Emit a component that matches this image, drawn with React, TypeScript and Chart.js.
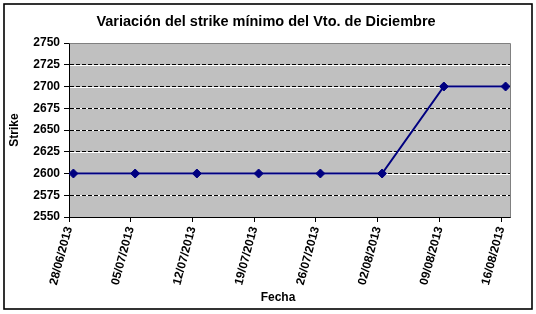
import React, { useEffect, useRef } from "react";
import { Chart, registerables } from "chart.js";

Chart.register(...registerables);

const TITLE = "Variación del strike mínimo del Vto. de Diciembre";
const X_TITLE = "Fecha";
const Y_TITLE = "Strike";

const dateLabels = [
  "28/06/2013",
  "05/07/2013",
  "12/07/2013",
  "19/07/2013",
  "26/07/2013",
  "02/08/2013",
  "09/08/2013",
  "16/08/2013",
];

const strikeValues = [2600, 2600, 2600, 2600, 2600, 2600, 2700, 2700];

const Y_MIN = 2550;
const Y_MAX = 2750;
const Y_STEP = 25;

const FONT = "'Liberation Sans', Arial, sans-serif";

function dayNumber(label: string): number {
  const [dd, mm, yy] = label.split("/").map(Number);
  return Date.UTC(yy, mm - 1, dd) / 86400000;
}

const firstDay = dayNumber(dateLabels[0]);
const tickDays = dateLabels.map((d) => dayNumber(d) - firstDay);
const lastDay = tickDays[tickDays.length - 1];

export default function App() {
  const canvasRef = useRef<HTMLCanvasElement | null>(null);

  useEffect(() => {
    document.body.style.margin = "0";
    const canvas = canvasRef.current;
    if (!canvas) return;

    const decor = {
      id: "decor",
      beforeDraw(chart: any) {
        const { ctx, chartArea } = chart;
        const { left, top, right, bottom } = chartArea;
        ctx.save();
        ctx.fillStyle = "#ffffff";
        ctx.fillRect(0, 0, chart.width, chart.height);
        ctx.fillStyle = "#C0C0C0";
        ctx.fillRect(left, top, right - left, bottom - top);
        // white under-lines for the dashed gridlines
        const ys = chart.scales.y;
        ctx.strokeStyle = "#ffffff";
        ctx.lineWidth = 1;
        ys.ticks.forEach((t: any) => {
          if (t.value === Y_MIN || t.value === Y_MAX) return;
          const y = Math.round(ys.getPixelForValue(t.value)) + 0.5;
          ctx.beginPath();
          ctx.moveTo(left, y);
          ctx.lineTo(right, y);
          ctx.stroke();
        });
        ctx.restore();
      },
      afterDraw(chart: any) {
        const { ctx, chartArea } = chart;
        const { left, top, right, bottom } = chartArea;
        ctx.save();
        // plot-area frame (top and right)
        ctx.strokeStyle = "#808080";
        ctx.lineWidth = 1;
        ctx.beginPath();
        ctx.moveTo(Math.round(left) + 0.5, Math.round(top) + 0.5);
        ctx.lineTo(Math.round(right) + 0.5, Math.round(top) + 0.5);
        ctx.lineTo(Math.round(right) + 0.5, Math.round(bottom) + 0.5);
        ctx.stroke();
        // chart title
        ctx.fillStyle = "#000";
        ctx.textAlign = "center";
        ctx.textBaseline = "middle";
        ctx.font = `bold 14.5px ${FONT}`;
        ctx.fillText(TITLE, 266, 22);
        // x-axis title
        ctx.font = `bold 12px ${FONT}`;
        ctx.fillText(X_TITLE, 278, 298);
        // outer frame
        ctx.strokeStyle = "#000";
        ctx.lineWidth = 1.6;
        ctx.strokeRect(4, 4, 528, 305);
        ctx.restore();
      },
    };

    const chart = new Chart(canvas, {
      type: "line",
      data: {
        datasets: [
          {
            data: strikeValues.map((v, i) => ({ x: tickDays[i] + 0.5, y: v })),
            borderColor: "#000080",
            backgroundColor: "#000080",
            borderWidth: 2,
            pointStyle: "rectRot",
            pointRadius: 4.5,
            pointHoverRadius: 4.5,
            pointBackgroundColor: "#000080",
            pointBorderColor: "#000080",
            pointBorderWidth: 1,
            tension: 0,
            fill: false,
          },
        ],
      },
      options: {
        responsive: false,
        animation: false,
        events: [],
        layout: { padding: { top: 43, right: 26, bottom: 0, left: 0 } },
        plugins: {
          legend: { display: false },
          tooltip: { enabled: false },
          title: { display: false },
        },
        scales: {
          x: {
            type: "linear",
            min: 0,
            max: lastDay + 1,
            afterBuildTicks: (scale: any) => {
              scale.ticks = tickDays.map((d) => ({ value: d }));
            },
            afterFit: (scale: any) => {
              scale.height = 97;
            },
            ticks: {
              autoSkip: false,
              minRotation: 75,
              maxRotation: 75,
              padding: 3,
              color: "#000",
              font: { family: FONT, size: 12, weight: "bold" },
              callback: (value: any) => {
                const i = tickDays.indexOf(Number(value));
                return i >= 0 ? dateLabels[i] : "";
              },
            },
            grid: {
              drawOnChartArea: false,
              drawTicks: true,
              tickLength: 5,
              tickColor: "#000",
              color: "#000",
            },
            border: { color: "#000", width: 1 },
          },
          y: {
            min: Y_MIN,
            max: Y_MAX,
            afterFit: (scale: any) => {
              scale.width = 69;
            },
            ticks: {
              stepSize: Y_STEP,
              padding: 4,
              color: "#000",
              font: { family: FONT, size: 12, weight: "bold" },
              callback: (value: any) => String(value),
            },
            grid: {
              color: (ctx: any) =>
                ctx.tick && (ctx.tick.value === Y_MIN || ctx.tick.value === Y_MAX)
                  ? "rgba(0,0,0,0)"
                  : "#000",
              tickColor: "#000",
              tickLength: 5,
              lineWidth: 1,
            },
            border: { color: "#000", width: 1, dash: [4, 2] },
            title: {
              display: true,
              text: Y_TITLE,
              color: "#000",
              font: { family: FONT, size: 12, weight: "bold" },
              padding: { top: 7, bottom: 0 },
            },
          },
        },
      },
      plugins: [decor],
    } as any);

    return () => chart.destroy();
  }, []);

  return (
    <div style={{ width: 536, height: 314, position: "relative" }}>
      <canvas ref={canvasRef} width={536} height={314} style={{ display: "block" }} />
    </div>
  );
}
